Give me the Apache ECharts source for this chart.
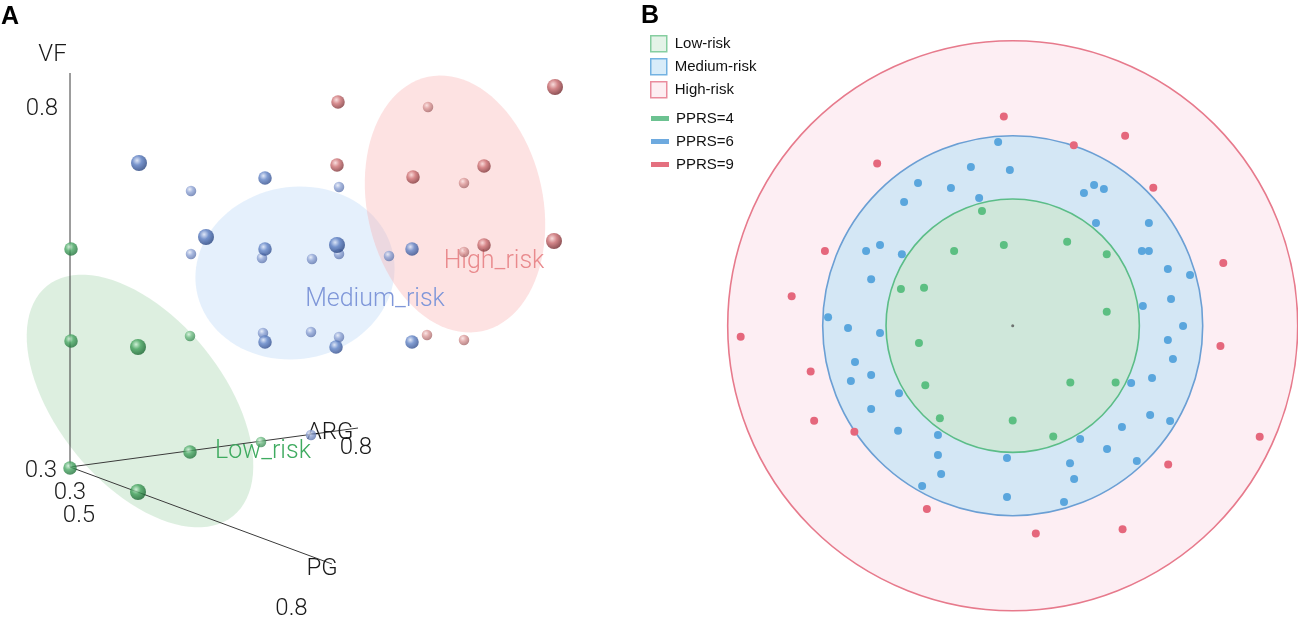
<!DOCTYPE html>
<html><head><meta charset="utf-8">
<script src="https://cdn.jsdelivr.net/npm/echarts@6/dist/echarts.min.js"></script>
<style>html,body{margin:0;padding:0;background:#fff}#c{width:1298px;height:628px}</style>
</head><body><div id="c"></div>
<script>
// ---------------- Panel A data: projected 3-D positions (x right, y up, from the axes origin), depth class 1 = near … 3 = far
const lowRiskA = [[1,218,2],[1,126,2],[68,120,1],[120,131,3],[120,15,2],[191,25,3],[0,-1,2],[68,-25,1]];
const mediumRiskA = [[69,304,1],[121,276,3],[195,289,2],[269,280,3],[136,230,1],[121,213,3],[195,218,2],[192,209,3],
  [242,208,3],[267,222,1],[269,213,3],[319,211,3],[342,218,2],[193,134,3],[195,125,2],[241,135,3],[269,130,3],
  [266,120,2],[342,125,2],[241,32,3]];
const highRiskA = [[268,365,2],[358,360,3],[485,380,1],[267,302,2],[343,290,2],[414,301,2],[394,284,3],[414,222,2],
  [484,226,1],[394,215,3],[357,132,3],[394,127,3]];
// confidence ellipses: centre x, centre y, semi-major, semi-minor, angle (deg)
const clusterEllipsesA = [[70,66,148,83,-51],[225,194,100,86,10],[385,263,130,88,-78]];
const clusterNamesA = ['Low_risk','Medium_risk','High_risk'];
const axisNamesA = ['VF','ARG','PG'];
const axisEndsA = [[0,394],[288,39],[262,-97]];
const tickLabelsA = ['0.8','0.3','0.3','0.5','0.8','0.8'];

// ---------------- Panel B data (distance unit = PPRS score)
const pprsLevels = [4,6,9];
const riskNames = ['Low-risk','Medium-risk','High-risk'];
const pprsNames = ['PPRS=4','PPRS=6','PPRS=9'];
const lowRiskB = [[-0.97,3.62],[-1.85,2.36],[-0.28,2.55],[1.72,2.65],[2.97,2.26],[-3.53,1.16],[-2.80,1.20],[2.97,0.44],
  [-2.96,-0.55],[-2.76,-1.88],[1.82,-1.79],[3.25,-1.79],[-2.30,-2.92],[0.00,-2.99],[1.28,-3.50]];
const mediumRiskB = [[-0.46,5.80],[-1.32,5.01],[-0.09,4.92],[-2.99,4.51],[-1.95,4.35],[-1.06,4.03],[-3.43,3.91],
  [-4.19,2.55],[-4.63,2.36],[-3.50,2.26],[-4.47,1.47],[-5.83,0.27],[-5.20,-0.07],[2.57,4.44],[2.88,4.32],[2.25,4.19],
  [2.63,3.24],[4.30,3.24],[4.08,2.36],[4.30,2.36],[4.90,1.79],[5.60,1.60],[5.00,0.84],[4.11,0.62],[5.38,-0.01],
  [-4.19,-0.23],[-4.98,-1.15],[-4.47,-1.56],[-5.11,-1.75],[-3.59,-2.13],[-4.47,-2.63],[-3.62,-3.32],[-2.36,-3.45],
  [-2.36,-4.08],[-2.26,-4.68],[-2.86,-5.06],[-0.18,-4.18],[-0.18,-5.41],[4.90,-0.45],[5.06,-1.05],[4.40,-1.65],
  [3.74,-1.81],[4.34,-2.82],[4.97,-3.01],[3.45,-3.20],[2.13,-3.58],[2.98,-3.89],[1.81,-4.34],[3.92,-4.27],
  [1.94,-4.84],[1.62,-5.57]];
const highRiskB = [[-0.28,6.61],[-4.28,5.12],[-5.93,2.36],[-6.98,0.93],[3.55,6.00],[1.93,5.70],[4.44,4.36],[6.65,1.98],
  [-8.59,-0.35],[-6.38,-1.45],[-6.27,-3.00],[-5.00,-3.35],[-2.71,-5.79],[6.56,-0.64],[7.80,-3.51],[4.91,-4.38],
  [3.47,-6.43],[0.73,-6.56]];

// ---------------- layout / style (not data)
const textAnchorsA = {
  axisNames: [[-17.5,411.7],[260,34.5],[252,-102]],
  ticks: [[-28,358],[-29,-4],[0,-25.5],[9,-49],[286,19.5],[221.5,-142]],
  clusters: [[193,15],[305,167],[424,205]]
};
const clusterTextColors = ['#3fab60','#7f97d9','#e98a8d'];
const ellipseFills = ['rgba(175,218,182,0.42)','rgba(180,212,245,0.34)','rgba(250,180,180,0.38)'];
const sphereCols = {
  low:   {1:['#c9efd2','#3f9f59','#17652f'], 2:['#cdeed5','#4aa865','#22743c'], 3:['#d8f2de','#72bd86','#3f8d58']},
  medium:{1:['#d6e0f5','#5679bf','#27437f'], 2:['#dbe3f5','#6284c6','#34508f'], 3:['#e6ebf7','#92a6d6','#6177ae']},
  high:  {1:['#f6d2d2','#c7676b','#74292e'], 2:['#f7d6d6','#cd7174','#83383c'], 3:['#f9e0e0','#dc9c9c','#a86a6c']}
};
const sphereSize = {1:16, 2:13.5, 3:10.5};
const risk3Fill = ['#cfe7da','#d4e7f5','#fdeef3'];
const risk3Stroke = ['#5bbd88','#6b9fd4','#e77a8c'];
const dotCols = ['#5cbf82','#5aa6dd','#e5677c'];
const legendFill = ['#e4f3e8','#d8ecf9','#fdeef2'];
const legendBorder = ['#86cea0','#73b2e2','#ea8c9d'];
const legendLine = ['#6cc291','#6eaadf','#e4707f'];

function sphere(g, d){
  const c = sphereCols[g][d];
  return {type:'radial', x:0.38, y:0.34, r:0.66,
    colorStops:[{offset:0,color:c[0]},{offset:0.45,color:c[1]},{offset:1,color:c[2]}]};
}
function sphereSeries(name, pts, g){
  const sorted = pts.slice().sort((a,b)=>b[2]-a[2]);
  return {type:'scatter', name, xAxisIndex:0, yAxisIndex:0, symbol:'circle',
    symbolSize:(v)=>sphereSize[v[2]], silent:true,
    data: sorted.map(p=>({value:p, itemStyle:{color:sphere(g,p[2])}}))};
}
const fontA = 'Roboto, "Liberation Sans", sans-serif';
function textSeries(labels, anchors, colors, size){
  return {type:'custom', xAxisIndex:0, yAxisIndex:0, silent:true, clip:false,
    data: anchors.map((a,i)=>[a[0],a[1],i]),
    renderItem:(p,api)=>{
      const c = api.coord([api.value(0),api.value(1)]);
      const i = api.value(2);
      return {type:'text', x:c[0], y:c[1], style:{text:labels[i], fill:Array.isArray(colors)?colors[i]:colors,
        fontSize:size, fontFamily:fontA, fontWeight:300, align:'center', verticalAlign:'middle'}};
    }};
}

const series = [];
// Panel A ellipses
series.push({type:'custom', xAxisIndex:0, yAxisIndex:0, silent:true, clip:false,
  data: clusterEllipsesA.map((e,i)=>[...e,i]),
  renderItem:(p,api)=>{
    const c = api.coord([api.value(0),api.value(1)]);
    const a = api.size([api.value(2),0])[0];
    const b = api.size([0,api.value(3)])[1];
    const ang = api.value(4)*Math.PI/180;
    const pts = [];
    for(let k=0;k<96;k++){
      const t = k/96*Math.PI*2;
      const ex = a*Math.cos(t), ey = b*Math.sin(t);
      const rx = ex*Math.cos(ang) - ey*Math.sin(ang);
      const ry = ex*Math.sin(ang) + ey*Math.cos(ang);
      pts.push([c[0]+rx, c[1]-ry]);
    }
    return {type:'polygon', shape:{points:pts}, style:{fill:ellipseFills[api.value(5)]}};
  }});
// Panel A axis lines
series.push({type:'custom', xAxisIndex:0, yAxisIndex:0, silent:true, clip:false,
  data: axisEndsA.map(e=>[0,0,e[0],e[1]]),
  renderItem:(p,api)=>{
    const s = api.coord([api.value(0),api.value(1)]);
    const e = api.coord([api.value(2),api.value(3)]);
    return {type:'line', shape:{x1:s[0],y1:s[1],x2:e[0],y2:e[1]}, style:{stroke:'#3a3a3a', lineWidth:1}};
  }});
series.push(sphereSeries('Low_risk', lowRiskA, 'low'));
series.push(sphereSeries('Medium_risk', mediumRiskA, 'medium'));
series.push(sphereSeries('High_risk', highRiskA, 'high'));
series.push(textSeries(axisNamesA, textAnchorsA.axisNames, '#1a1a1a', 24));
series.push(textSeries(tickLabelsA, textAnchorsA.ticks, '#1a1a1a', 24));
series.push(textSeries(clusterNamesA, textAnchorsA.clusters, clusterTextColors, 25));

// Panel B circles (largest first)
function circleSeries(name, r, fill, stroke){
  return {type:'custom', name, xAxisIndex:1, yAxisIndex:1, silent:true, clip:false,
    data:[[r]],
    renderItem:(p,api)=>{
      const c = api.coord([0,0]);
      const rr = api.size([api.value(0),0])[0];
      return {type:'circle', shape:{cx:c[0],cy:c[1],r:rr},
        style: fill ? {fill:fill} : {fill:'none', stroke:stroke, lineWidth:1.6}};
    }};
}
for(let i=2;i>=0;i--){
  series.push(circleSeries(riskNames[i], pprsLevels[i], risk3Fill[i], null));
  series.push(circleSeries(pprsNames[i], pprsLevels[i], null, risk3Stroke[i]));
}
[lowRiskB, mediumRiskB, highRiskB].forEach((pts,i)=>{
  series.push({type:'scatter', name:riskNames[i], xAxisIndex:1, yAxisIndex:1, symbolSize:8, silent:true,
    itemStyle:{color:dotCols[i], opacity:1}, data:pts});
});
series.push({type:'scatter', xAxisIndex:1, yAxisIndex:1, symbolSize:3, silent:true,
  itemStyle:{color:'#555'}, data:[[0,0]]});

const hidden = {show:false};
const legendText = {fontSize:15, fontFamily:'"Liberation Sans", Arial', color:'#111'};
const option = {
  animation:false,
  title:[
    {text:'A', left:1, top:5, padding:0, textStyle:{fontSize:25, fontWeight:'bold', fontFamily:'"Liberation Sans", Arial', color:'#000'}},
    {text:'B', left:641, top:4, padding:0, textStyle:{fontSize:25, fontWeight:'bold', fontFamily:'"Liberation Sans", Arial', color:'#000'}}
  ],
  legend:[
    {orient:'vertical', left:650, top:35, padding:0, itemWidth:16, itemHeight:16, itemGap:5.5, selectedMode:false,
     textStyle:{...legendText, padding:[0,0,0,3]},
     data: riskNames.map((n,i)=>({name:n, icon:'rect', itemStyle:{color:legendFill[i], borderColor:legendBorder[i], borderWidth:1.5}}))},
    {orient:'vertical', left:651, top:111, padding:0, itemWidth:18, itemHeight:5, itemGap:8, selectedMode:false,
     textStyle:{...legendText, padding:[0,0,0,2]},
     data: pprsNames.map((n,i)=>({name:n, icon:'rect', itemStyle:{color:legendLine[i], borderWidth:0}}))}
  ],
  grid:[
    {left:0, top:0, width:640, height:628},
    {left:727.7, top:40.7, width:570, height:570}
  ],
  xAxis:[
    {type:'value', gridIndex:0, min:-70, max:570, ...hidden},
    {type:'value', gridIndex:1, min:-9, max:9, ...hidden}
  ],
  yAxis:[
    {type:'value', gridIndex:0, min:-161, max:467, ...hidden},
    {type:'value', gridIndex:1, min:-9, max:9, ...hidden}
  ],
  series
};
const chart = echarts.init(document.getElementById('c'));
chart.setOption(option);
</script></body></html>
